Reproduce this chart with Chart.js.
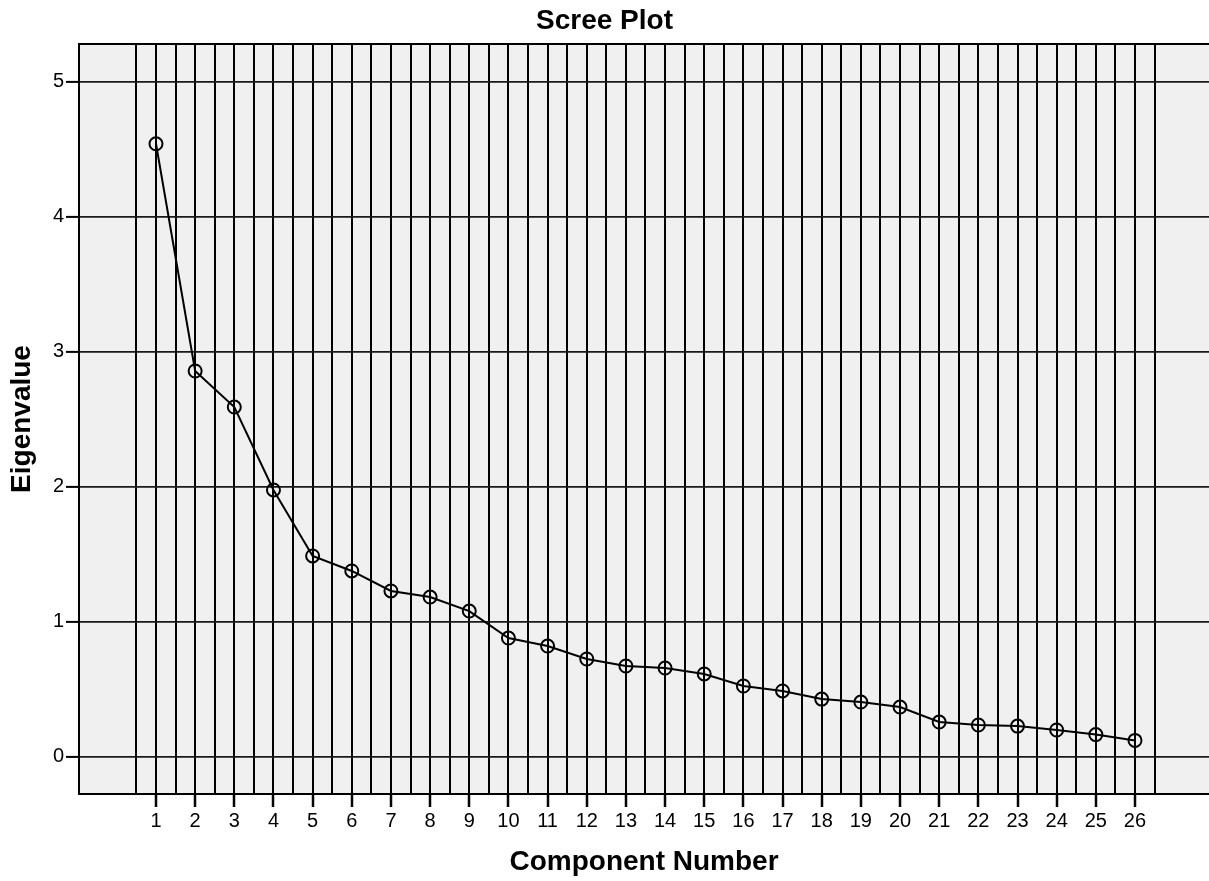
<!DOCTYPE html>
<html>
<head>
<meta charset="utf-8">
<script src="https://cdn.jsdelivr.net/npm/chart.js@4"></script>
<style>
  html, body { margin: 0; padding: 0; background: #fff; overflow: hidden; }
  #box { width: 1209px; height: 881px; }
</style>
</head>
<body>
<div id="box"><canvas id="scree"></canvas></div>
<script>
// component numbers and their eigenvalues
var components = [1,2,3,4,5,6,7,8,9,10,11,12,13,14,15,16,17,18,19,20,21,22,23,24,25,26];
var eigenvalues = [4.54,2.857,2.59,1.976,1.487,1.376,1.228,1.183,1.079,0.879,0.82,0.724,0.672,0.657,
                   0.613,0.524,0.487,0.427,0.405,0.368,0.257,0.235,0.227,0.198,0.164,0.121];
var yTicks = [0,1,2,3,4,5];

var points = [];
for (var i = 0; i < components.length; i++) {
    points.push({x: components[i], y: eigenvalues[i]});
}

// vertical grid: one line on each component and one half way between
var xGrid = [];
for (var k = 0.5; k <= components.length + 0.5; k += 0.5) {
    xGrid.push(k);
}

var fontFam = "Arial, 'Liberation Sans', sans-serif";

// grey plot background + frame like SPSS
var plotFrame = {
    id: 'plotFrame',
    beforeDraw: function(chart) {
        var a = chart.chartArea, ctx = chart.ctx;
        ctx.save();
        ctx.fillStyle = '#f0f0f0';
        ctx.fillRect(a.left, a.top, a.right - a.left, a.bottom - a.top);
        ctx.restore();
    },
    afterDraw: function(chart) {
        var a = chart.chartArea, ctx = chart.ctx;
        ctx.save();
        ctx.strokeStyle = '#000';
        ctx.lineWidth = 2;
        ctx.beginPath();
        ctx.moveTo(a.left, a.bottom);
        ctx.lineTo(a.left, a.top);
        ctx.lineTo(a.right + 2, a.top);
        ctx.stroke();
        ctx.restore();
    }
};

new Chart(document.getElementById('scree'), {
    type: 'line',
    data: {
        datasets: [{
            data: points,
            borderColor: '#000',
            borderWidth: 2,
            backgroundColor: 'rgba(0,0,0,0)',
            pointRadius: 6.5,
            pointBorderWidth: 2,
            pointBorderColor: '#000',
            pointBackgroundColor: 'rgba(0,0,0,0)',
            tension: 0,
            clip: false
        }]
    },
    options: {
        responsive: true,
        maintainAspectRatio: false,
        animation: false,
        layout: { padding: 0, autoPadding: false },
        plugins: {
            legend: { display: false },
            tooltip: { enabled: false },
            title: {
                display: true,
                text: 'Scree Plot',
                color: '#000',
                font: { family: fontFam, size: 28, weight: 'bold', lineHeight: 1 },
                padding: { top: 7, bottom: 9 }
            }
        },
        scales: {
            x: {
                type: 'linear',
                min: -0.966,
                max: 27.89,
                afterBuildTicks: function(scale) {
                    scale.ticks = xGrid.map(function(v) { return {value: v}; });
                },
                afterFit: function(scale) { scale.height = 87; },
                grid: {
                    color: '#000',
                    lineWidth: 2,
                    tickLength: 13,
                    tickColor: function(c) {
                        return Number.isInteger(c.tick.value) ? '#000' : 'rgba(0,0,0,0)';
                    },
                    tickWidth: 2.5
                },
                border: { display: true, color: '#000', width: 2 },
                ticks: {
                    autoSkip: false,
                    maxRotation: 0,
                    padding: 2,
                    color: '#000',
                    font: { family: fontFam, size: 20 },
                    callback: function(v) { return Number.isInteger(v) ? String(v) : ''; }
                },
                title: {
                    display: true,
                    text: 'Component Number',
                    color: '#000',
                    font: { family: fontFam, size: 28, weight: 'bold', lineHeight: 1.2 },
                    padding: { top: 0, bottom: 2 }
                }
            },
            y: {
                min: -0.276,
                max: 5.279,
                afterBuildTicks: function(scale) {
                    scale.ticks = yTicks.map(function(v) { return {value: v}; });
                },
                afterFit: function(scale) { scale.width = 79; },
                grid: {
                    color: '#1a1a1a',
                    lineWidth: 1.8,
                    tickLength: 13,
                    tickColor: '#000',
                    tickWidth: 2
                },
                border: { display: true, color: '#000', width: 2 },
                ticks: {
                    padding: 2,
                    color: '#000',
                    font: { family: fontFam, size: 20 }
                },
                title: {
                    display: true,
                    text: 'Eigenvalue',
                    color: '#000',
                    font: { family: fontFam, size: 28, weight: 'bold', lineHeight: 1.2 },
                    padding: { top: 5, bottom: 0 }
                }
            }
        }
    },
    plugins: [plotFrame]
});
</script>
</body>
</html>
